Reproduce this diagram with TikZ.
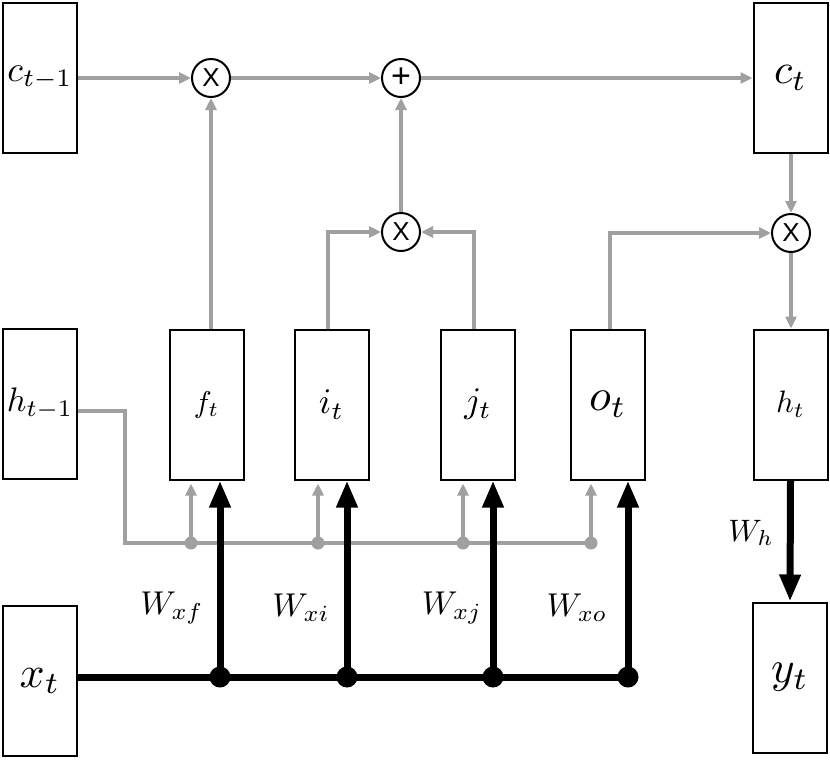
\documentclass[tikz,border=0pt]{standalone}
\usepackage{graphicx}
\usepackage{fontspec}
\newfontfamily\opfont{Liberation Sans}
\usetikzlibrary{arrows.meta}
\definecolor{lgray}{HTML}{A0A0A0}
\newcommand\mth[2]{\scalebox{#1}{$#2$}}
\begin{document}
\begin{tikzpicture}[x=1pt,y=-1pt,
  box/.style={draw=black,line width=2pt,fill=white,inner sep=0pt,minimum width=74pt,minimum height=150pt},
  op/.style={circle,draw=black,line width=2pt,minimum size=38pt,inner sep=0pt,fill=white,font=\opfont\fontsize{26}{26}\selectfont},
  gline/.style={draw=lgray,line width=3.5pt},
  garrow/.style={gline,-{Triangle[length=12pt,width=11pt]}},
  bline/.style={draw=black,line width=7pt},
  barrow/.style={bline,-{Triangle[length=27pt,width=20pt]}},
  gdot/.style={circle,fill=lgray,inner sep=0pt,minimum size=13pt},
  bdot/.style={circle,fill=black,inner sep=0pt,minimum size=21pt},
  lbl/.style={inner sep=0pt}
]
\useasboundingbox (0,0) rectangle (830,761);

% boxes
\node[box] (cprev) at (40,78) {\mth{3.6}{c_{t-1}}};
\node[box] (ct) at (790.5,78) {\mth{4.2}{c_t}};
\node[box] (hprev) at (40,404) {\mth{3.4}{h_{t-1}}};
\node[box] (f) at (206.5,404.5) {\mth{3.0}{f_t}};
\node[box] (i) at (331.5,404.5) {\mth{3.6}{i_t}};
\node[box] (j) at (478,404.5) {\mth{3.6}{j_t}};
\node[box] (o) at (608,404.5) {\mth{4.5}{o_t}};
\node[box] (ht) at (790.5,404.5) {\mth{3.1}{h_t}};
\node[box] (xt) at (40,681) {\mth{4.4}{x_t}};
\node[box] (yt) at (790,677.5) {\mth{4.5}{y_t}};

% operators
\node[op] (mul1) at (211,78) {X};
\node[op,font=\opfont\fontsize{34}{34}\selectfont] (add) at (401,78) {+};
\node[op] (mul2) at (401,232) {X};
\node[op] (mul3) at (791,233) {X};

% cell state path
\draw[garrow] (cprev.east) -- (mul1.west);
\draw[garrow] (mul1.east) -- (add.west);
\draw[garrow] (add.east) -- (ct.west);
\draw[garrow] (f.north -| mul1) -- (mul1.south);
\draw[garrow] (mul2.north) -- (add.south);
\draw[garrow] ([xshift=-3.5pt]i.north) |- (mul2.west);
\draw[garrow] ([xshift=-4pt]j.north) |- (mul2.east);
\draw[garrow] ([xshift=2pt]o.north) |- (mul3.west);
\draw[garrow] (ct.south -| mul3) -- (mul3.north);
\draw[garrow] (mul3.south) -- (ht.north -| mul3);

% h_{t-1} bus
\coordinate (hbus) at (125,543);
\coordinate (g1) at (191,543);
\coordinate (g2) at (318,543);
\coordinate (g3) at (463,543);
\coordinate (g4) at (591,543);
\draw[gline] ([yshift=-7pt]hprev.east) -| (hbus) -- (g4);
\draw[garrow,shorten >=3pt] (g1) -- (g1 |- f.south);
\draw[garrow,shorten >=3pt] (g2) -- (g2 |- i.south);
\draw[garrow,shorten >=3pt] (g3) -- (g3 |- j.south);
\draw[garrow,shorten >=3pt] (g4) -- (g4 |- o.south);
\node[gdot] (gd1) at (g1) {};
\node[gdot] (gd2) at (g2) {};
\node[gdot] (gd3) at (g3) {};
\node[gdot] (gd4) at (g4) {};

% x_t bus
\coordinate (b1) at (220,677);
\coordinate (b2) at (347,677);
\coordinate (b3) at (493,677);
\coordinate (b4) at (628,677);
\draw[bline] ([yshift=4pt]xt.east) -- (b4);
\draw[barrow] (b1) -- (b1 |- f.south);
\draw[barrow] (b2) -- (b2 |- i.south);
\draw[barrow] (b3) -- (b3 |- j.south);
\draw[barrow] (b4) -- (b4 |- o.south);
\node[bdot] (d1) at (b1) {};
\node[bdot] (d2) at (b2) {};
\node[bdot] (d3) at (b3) {};
\node[bdot] (d4) at (b4) {};

% output
\draw[barrow] (ht.south) -- (yt.north);

% weight labels
\node[lbl] (wxf) at (172,608) {\mth{3.3}{W_{xf}}};
\node[lbl] (wxi) at (301,608) {\mth{3.3}{W_{xi}}};
\node[lbl] (wxj) at (452,608) {\mth{3.3}{W_{xj}}};
\node[lbl] (wxo) at (577,608) {\mth{3.3}{W_{xo}}};
\node[lbl] (wh) at (751,533) {\mth{3.1}{W_h}};
\end{tikzpicture}
\end{document}
